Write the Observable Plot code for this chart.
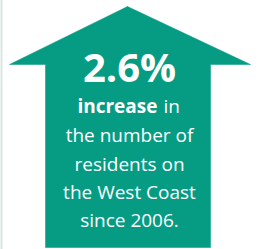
<!DOCTYPE html>
<html>
<head>
<meta charset="utf-8">
<script src="https://cdn.jsdelivr.net/npm/d3@7"></script>
<script src="https://cdn.jsdelivr.net/npm/@observablehq/plot@0.6"></script>
<style>
  html, body { margin: 0; padding: 0; background: #fff; }
  svg { display: block; }
</style>
</head>
<body>
<div id="chart"></div>
<script>
// Arrow outline (chart units = px-like coordinate space)
const arrowX = [127, 250, 210, 210, 45, 45, 9, 127];
const arrowY = [6, 64, 64, 247, 247, 64, 64, 6];

const headline = "2.6%";
const boldWord = "increase";
const restWord = "in";
const lines = ["the number of", "residents on", "the West Coast", "since 2006."];
const lineBaselines = [141, 170, 198, 226];

const teal = "#069b83";
const font = "Open Sans, sans-serif";

const arrow = arrowX.map((x, i) => ({x, y: arrowY[i]}));
const textRows = lines.map((t, i) => ({t, y: lineBaselines[i]}));

const chart = Plot.plot({
  width: 261,
  height: 249,
  margin: 0,
  x: {domain: [0, 261], range: [0, 261], axis: null},
  y: {domain: [0, 249], range: [0, 249], axis: null},
  style: {fontFamily: font, background: "white"},
  marks: [
    Plot.ruleX([1], {stroke: "#d8e6e1", strokeWidth: 2}),
    Plot.line(arrow, {x: "x", y: "y", fill: teal, stroke: teal, strokeWidth: 0.5}),
    Plot.text([headline], {x: 129, y: 81, text: d => d, fill: "white", fontSize: 40, fontWeight: "bold", lineAnchor: "bottom", fontFamily: font}),
    Plot.text([boldWord], {x: 157, y: 112, text: d => d, fill: "white", fontSize: 19, fontWeight: "bold", textAnchor: "end", lineAnchor: "bottom", fontFamily: font}),
    Plot.text([restWord], {x: 163, y: 112, text: d => d, fill: "white", fontSize: 19, textAnchor: "start", lineAnchor: "bottom", fontFamily: font}),
    Plot.text(textRows, {x: 129, y: "y", text: "t", fill: "white", fontSize: 19, lineAnchor: "bottom", fontFamily: font})
  ]
});
document.getElementById("chart").appendChild(chart);
</script>
</body>
</html>
